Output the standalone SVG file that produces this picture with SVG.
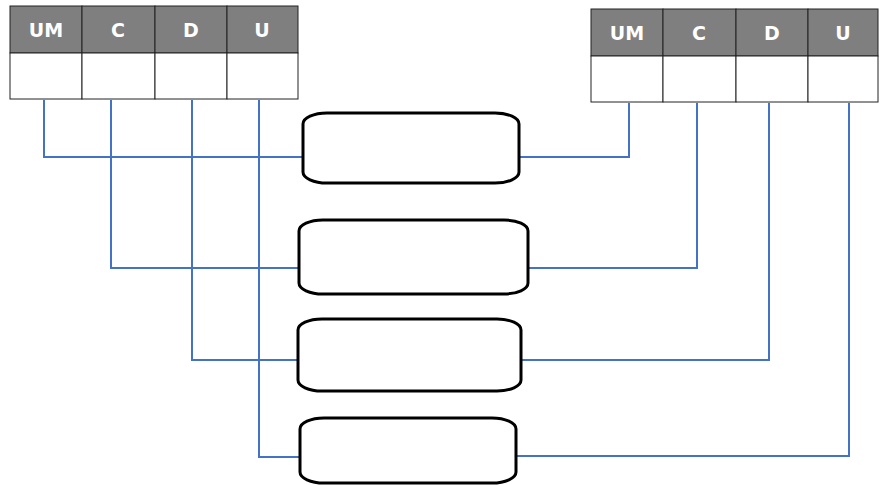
<svg xmlns="http://www.w3.org/2000/svg" width="884" height="485" viewBox="0 0 884 485">
<style>
.hd{fill:#7f7f7f;stroke:#222;stroke-width:1}
.cell{fill:#fff;stroke:#222;stroke-width:1}
.t{fill:#fff;font-family:"DejaVu Sans","Liberation Sans",sans-serif;font-weight:bold;font-size:19px;text-anchor:middle}
.box{fill:#fff;stroke:#000;stroke-width:3}
.ln{fill:none;stroke:#4472c4;stroke-width:2}
</style>
<rect width="884" height="485" fill="#fff"/>
<g id="tableLeft">
<rect class="hd" x="10" y="6" width="72" height="47"/>
<rect class="hd" x="82" y="6" width="73" height="47"/>
<rect class="hd" x="155" y="6" width="72" height="47"/>
<rect class="hd" x="227" y="6" width="71" height="47"/>
<rect class="cell" x="10" y="53" width="72" height="46"/>
<rect class="cell" x="82" y="53" width="73" height="46"/>
<rect class="cell" x="155" y="53" width="72" height="46"/>
<rect class="cell" x="227" y="53" width="71" height="46"/>
<text class="t" x="46" y="37">UM</text>
<text class="t" x="118" y="37">C</text>
<text class="t" x="191" y="37">D</text>
<text class="t" x="262" y="37">U</text>
</g>
<g id="tableRight">
<rect class="hd" x="591" y="9" width="72" height="47"/>
<rect class="hd" x="663" y="9" width="73" height="47"/>
<rect class="hd" x="736" y="9" width="72" height="47"/>
<rect class="hd" x="808" y="9" width="70" height="47"/>
<rect class="cell" x="591" y="56" width="72" height="46"/>
<rect class="cell" x="663" y="56" width="73" height="46"/>
<rect class="cell" x="736" y="56" width="72" height="46"/>
<rect class="cell" x="808" y="56" width="70" height="46"/>
<text class="t" x="627" y="40">UM</text>
<text class="t" x="699" y="40">C</text>
<text class="t" x="772" y="40">D</text>
<text class="t" x="843" y="40">U</text>
</g>
<g id="connectors">
<polyline class="ln" points="44,100 44,157 303,157"/>
<polyline class="ln" points="111,100 111,268 299,268"/>
<polyline class="ln" points="192,100 192,360 298,360"/>
<polyline class="ln" points="259,100 259,457 300,457"/>
<polyline class="ln" points="520,157 629,157 629,103"/>
<polyline class="ln" points="528,268 697,268 697,103"/>
<polyline class="ln" points="522,360 769,360 769,103"/>
<polyline class="ln" points="516,456 849,456 849,103"/>
</g>
<g id="box1"><rect class="box" x="303" y="113" width="216" height="70" rx="24" ry="11"/></g>
<g id="box2"><rect class="box" x="299" y="220" width="229" height="74" rx="24" ry="11"/></g>
<g id="box3"><rect class="box" x="298" y="319" width="223" height="72" rx="24" ry="11"/></g>
<g id="box4"><rect class="box" x="300" y="418" width="216" height="65" rx="24" ry="11"/></g>
</svg>
